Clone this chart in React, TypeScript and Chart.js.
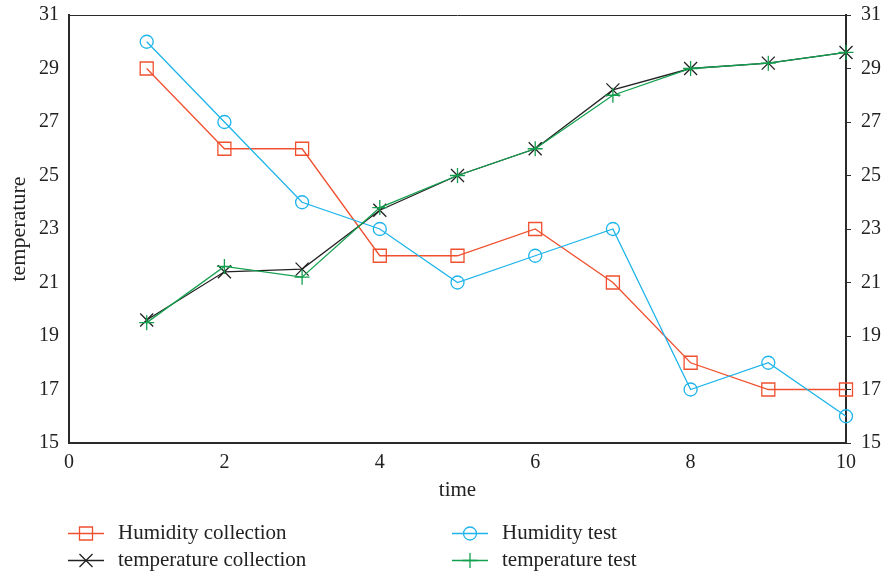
import React, { useEffect, useRef } from "react";
import { Chart, registerables } from "chart.js";

Chart.register(...registerables);

const times = [1, 2, 3, 4, 5, 6, 7, 8, 9, 10];
const humidityCollection = [29, 26, 26, 22, 22, 23, 21, 18, 17, 17];
const humidityTest = [30, 27, 24, 23, 21, 22, 23, 17, 18, 16];
const temperatureCollection = [19.6, 21.4, 21.5, 23.7, 25, 26, 28.2, 29, 29.2, 29.6];
const temperatureTest = [19.5, 21.6, 21.2, 23.8, 25, 26, 28, 29, 29.2, 29.6];
const xTickValues = [0, 2, 4, 6, 8, 10];
const yTickValues = [15, 17, 19, 21, 23, 25, 27, 29, 31];

const FONT = "'Liberation Serif', 'DejaVu Serif', serif";
const RED = "#f0502f";
const CYAN = "#1cb4ea";
const BLACK = "#222222";
const GREEN = "#12a04e";
const AXIS = "#2a2a2a";

function toPoints(values: number[]) {
  return times.map((t, i) => ({ x: t, y: values[i] }));
}

function drawMarker(ctx: CanvasRenderingContext2D, style: string, x: number, y: number, r: number) {
  ctx.beginPath();
  if (style === "rect") {
    const s = Math.SQRT1_2 * r;
    ctx.rect(x - s, y - s, 2 * s, 2 * s);
  } else if (style === "circle") {
    ctx.arc(x, y, r, 0, Math.PI * 2);
  } else if (style === "cross") {
    ctx.moveTo(x, y - r);
    ctx.lineTo(x, y + r);
    ctx.moveTo(x - r, y);
    ctx.lineTo(x + r, y);
  } else if (style === "crossRot") {
    const d = Math.SQRT1_2 * r;
    ctx.moveTo(x - d, y - d);
    ctx.lineTo(x + d, y + d);
    ctx.moveTo(x - d, y + d);
    ctx.lineTo(x + d, y - d);
  }
  ctx.stroke();
}

const framePlugin = {
  id: "frameAndLegend",
  afterDraw(chart: any) {
    const { ctx, chartArea } = chart;
    ctx.save();
    ctx.strokeStyle = AXIS;
    ctx.lineWidth = 1;
    ctx.beginPath();
    ctx.moveTo(chartArea.left, chartArea.top + 0.5);
    ctx.lineTo(chartArea.right, chartArea.top + 0.5);
    ctx.stroke();

    const cols = [68, 452];
    const rows = [533, 560];
    chart.data.datasets.forEach((ds: any, i: number) => {
      const col = cols[i % 2];
      const row = rows[Math.floor(i / 2)];
      ctx.strokeStyle = ds.borderColor;
      ctx.lineWidth = 1.3;
      ctx.beginPath();
      ctx.moveTo(col, row + 0.5);
      ctx.lineTo(col + 36, row + 0.5);
      ctx.stroke();
      drawMarker(ctx, ds.pointStyle, col + 18, row + 0.5, ds.pointRadius);
      ctx.fillStyle = "#222";
      ctx.font = `21px ${FONT}`;
      ctx.textBaseline = "middle";
      ctx.textAlign = "left";
      ctx.fillText(ds.label, col + 50, row);
    });
    ctx.restore();
  },
};

export default function App() {
  const ref = useRef<HTMLCanvasElement | null>(null);

  useEffect(() => {
    if (!ref.current) return;
    const tickFont = { family: FONT, size: 20 };
    const chart = new Chart(ref.current, {
      type: "line",
      data: {
        datasets: [
          {
            label: "Humidity collection",
            data: toPoints(humidityCollection),
            borderColor: RED,
            backgroundColor: "transparent",
            pointStyle: "rect",
            pointRadius: 9.2,
            pointBorderWidth: 1.3,
            borderWidth: 1.3,
            order: 3,
            clip: false,
          },
          {
            label: "Humidity test",
            data: toPoints(humidityTest),
            borderColor: CYAN,
            backgroundColor: "transparent",
            pointStyle: "circle",
            pointRadius: 6.5,
            pointBorderWidth: 1.3,
            borderWidth: 1.3,
            order: 2,
            clip: false,
          },
          {
            label: "temperature collection",
            data: toPoints(temperatureCollection),
            borderColor: BLACK,
            backgroundColor: "transparent",
            pointStyle: "crossRot",
            pointRadius: 9.2,
            pointBorderWidth: 1.3,
            borderWidth: 1.3,
            order: 1,
            clip: false,
          },
          {
            label: "temperature test",
            data: toPoints(temperatureTest),
            borderColor: GREEN,
            backgroundColor: "transparent",
            pointStyle: "cross",
            pointRadius: 7.5,
            pointBorderWidth: 1.3,
            borderWidth: 1.3,
            order: 0,
            clip: false,
          },
        ],
      },
      options: {
        animation: false,
        responsive: false,
        maintainAspectRatio: false,
        layout: { padding: { top: 15, left: 0, right: 0, bottom: 69 } },
        plugins: {
          legend: { display: false },
          tooltip: { enabled: false },
        },
        elements: { line: { tension: 0 } },
        scales: {
          x: {
            type: "linear",
            position: "bottom",
            min: 0,
            max: 10,
            afterBuildTicks: (s: any) => {
              s.ticks = xTickValues.map((v) => ({ value: v }));
            },
            afterFit: (s: any) => {
              s.height = 64;
              s.paddingLeft = 0;
              s.paddingRight = 0;
            },
            ticks: { color: "#222", font: tickFont, padding: 8, maxRotation: 0 },
            grid: { display: false, drawTicks: false },
            border: { display: true, color: AXIS, width: 2 },
            title: {
              display: true,
              text: "time",
              color: "#222",
              font: { family: FONT, size: 21 },
              padding: { top: 0, bottom: 4 },
            },
          },
          y: {
            type: "linear",
            position: "left",
            min: 15,
            max: 31,
            afterBuildTicks: (s: any) => {
              s.ticks = yTickValues.map((v) => ({ value: v }));
            },
            afterFit: (s: any) => {
              s.width = 69;
              s.paddingTop = 0;
              s.paddingBottom = 0;
            },
            ticks: { color: "#222", font: tickFont, padding: 10 },
            grid: { display: false, drawTicks: false },
            border: { display: true, color: AXIS, width: 2 },
            title: {
              display: true,
              text: "temperature",
              color: "#222",
              font: { family: FONT, size: 22 },
              padding: { top: 6, bottom: 0 },
            },
          },
          y2: {
            type: "linear",
            position: "right",
            min: 15,
            max: 31,
            afterBuildTicks: (s: any) => {
              s.ticks = yTickValues.map((v) => ({ value: v }));
            },
            afterFit: (s: any) => {
              s.width = 35;
              s.paddingTop = 0;
              s.paddingBottom = 0;
            },
            ticks: { color: "#222", font: tickFont, padding: 10 },
            grid: {
              display: true,
              drawOnChartArea: false,
              drawTicks: true,
              tickLength: 5,
              color: AXIS,
              lineWidth: 1,
            },
            border: { display: true, color: AXIS, width: 2 },
          },
        },
      },
      plugins: [framePlugin],
    } as any);
    return () => chart.destroy();
  }, []);

  return (
    <div style={{ position: "absolute", left: 0, top: 0, width: 881, height: 576, background: "#fff" }}>
      <canvas ref={ref} width={881} height={576} style={{ display: "block" }} />
    </div>
  );
}
